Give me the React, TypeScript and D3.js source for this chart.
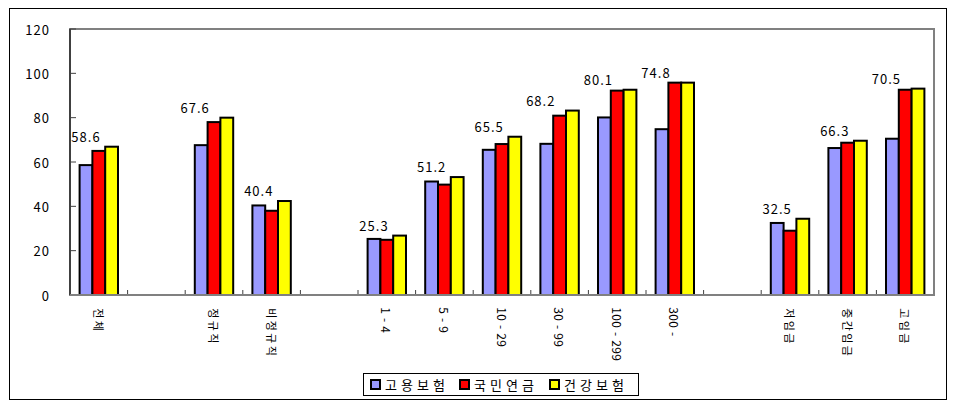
import React, { useEffect, useRef } from "react";
import * as d3 from "d3";

// categories in order, group index decides where the empty gap slots go
const categories = ["전체", "정규직", "비정규직", "1-4", "5-9", "10-29", "30-99", "100-299", "300-", "저임금", "중간임금", "고임금"];
const categoryGroup = [0, 1, 1, 2, 2, 2, 2, 2, 2, 3, 3, 3];

const seriesNames = ["고용보험", "국민연금", "건강보험"];
const employment = [58.6, 67.6, 40.4, 25.3, 51.2, 65.5, 68.2, 80.1, 74.8, 32.5, 66.3, 70.5];
const pension = [65.0, 78.0, 38.0, 24.9, 49.8, 68.1, 80.9, 92.2, 95.8, 29.0, 68.7, 92.6];
const health = [66.9, 80.0, 42.4, 26.8, 53.2, 71.4, 83.2, 92.6, 95.8, 34.4, 69.6, 93.1];
const seriesColors = ["#9999FF", "#FF0000", "#FFFF00"];
const yTicks = [0, 20, 40, 60, 80, 100, 120];

const W = 964;
const H = 415;
const FONT = "'Noto Sans CJK KR', 'DejaVu Sans', sans-serif";

const isHangul = (ch: string) => /[가-힣]/.test(ch);
// advance of one glyph in the vertical label, Gulim-like
const advance = (ch: string) => (isHangul(ch) ? 12.5 : ch === "-" ? 12 : 7);

const App = () => {
  const ref = useRef<SVGSVGElement | null>(null);

  useEffect(() => {
    const svg = d3.select(ref.current);
    svg.selectAll("*").remove();

    const plot = { left: 70, right: 934, top: 29, bottom: 295 };

    // slot keys: categories with a blank slot between groups
    const slots: string[] = [];
    categories.forEach((c, i) => {
      if (i > 0 && categoryGroup[i] !== categoryGroup[i - 1]) slots.push("gap" + i);
      slots.push(c);
    });

    const x = d3.scaleBand().domain(slots).range([plot.left, plot.right]).paddingInner(1 / 3).paddingOuter(1 / 6);
    const x1 = d3.scaleBand().domain(seriesNames).range([0, x.bandwidth()]);
    const y = d3.scaleLinear().domain([0, 120]).range([plot.bottom, plot.top]);
    const step = x.step();

    const allSeries = [employment, pension, health];

    // outer chart border
    svg.append("rect").attr("x", 9.5).attr("y", 8.5).attr("width", 937).attr("height", 391)
      .attr("fill", "white").attr("stroke", "black").attr("stroke-width", 1);

    // plot frame
    svg.append("rect").attr("x", plot.left).attr("y", plot.top)
      .attr("width", plot.right - plot.left).attr("height", plot.bottom - plot.top)
      .attr("fill", "white").attr("stroke", "#808080").attr("stroke-width", 2);
    svg.append("line").attr("x1", plot.left).attr("x2", plot.left).attr("y1", plot.top).attr("y2", plot.bottom)
      .attr("stroke", "#404040").attr("stroke-width", 2);

    // y ticks and labels
    const yg = svg.append("g");
    yTicks.forEach((t) => {
      yg.append("line").attr("x1", plot.left).attr("x2", plot.left + 6).attr("y1", y(t)).attr("y2", y(t))
        .attr("stroke", "#404040").attr("stroke-width", 1);
      yg.append("text").attr("x", 50).attr("y", y(t)).attr("text-anchor", "end")
        .attr("dominant-baseline", "central").attr("font-family", FONT).attr("font-size", 13)
        .attr("letter-spacing", 1).attr("fill", "black").text(t);
    });

    // x ticks between slots
    const xg = svg.append("g");
    for (let k = 1; k < slots.length; k++) {
      const tx = plot.left + k * step;
      xg.append("line").attr("x1", tx).attr("x2", tx).attr("y1", plot.bottom - 5).attr("y2", plot.bottom)
        .attr("stroke", "#404040").attr("stroke-width", 1);
    }

    // bars
    const bars = svg.append("g");
    categories.forEach((c, i) => {
      allSeries.forEach((s, j) => {
        const bx = (x(c) as number) + (x1(seriesNames[j]) as number);
        bars.append("rect").attr("x", bx).attr("y", y(s[i]))
          .attr("width", x1.bandwidth()).attr("height", plot.bottom - y(s[i]))
          .attr("fill", seriesColors[j]).attr("stroke", "black").attr("stroke-width", 2);
      });
    });

    // bottom axis line over bars
    svg.append("line").attr("x1", plot.left).attr("x2", plot.right).attr("y1", plot.bottom).attr("y2", plot.bottom)
      .attr("stroke", "#808080").attr("stroke-width", 2);

    // value labels for the first series, sitting just above the group's tallest bar
    const labels = svg.append("g");
    categories.forEach((c, i) => {
      const top = Math.max(employment[i], pension[i], health[i]);
      const bx = (x(c) as number) + (x1(seriesNames[0]) as number) + x1.bandwidth() / 2;
      const shift = pension[i] - employment[i] > 8 ? -6 : 0;
      labels.append("text").attr("x", bx + shift).attr("y", y(top) - 5).attr("text-anchor", "middle")
        .attr("font-family", FONT).attr("font-size", 13).attr("letter-spacing", 1)
        .attr("fill", "black").text(employment[i].toFixed(1));
    });

    // vertical category labels, glyph by glyph, each turned a quarter clockwise
    const cl = svg.append("g");
    categories.forEach((c) => {
      const cx = (x(c) as number) + x.bandwidth() / 2;
      const g = cl.append("g").attr("aria-label", c);
      let cy = 308;
      Array.from(c).forEach((ch) => {
        const a = advance(ch);
        g.append("text").attr("transform", `translate(${cx},${cy + a / 2 - 1}) rotate(90)`)
          .attr("text-anchor", "middle").attr("dominant-baseline", "central")
          .attr("font-family", FONT).attr("font-size", isHangul(ch) ? 11 : 12)
          .attr("fill", "black").text(ch);
        cy += a;
      });
    });

    // legend
    const lg = svg.append("g");
    lg.append("rect").attr("x", 363.5).attr("y", 373.5).attr("width", 275).attr("height", 22)
      .attr("fill", "white").attr("stroke", "black").attr("stroke-width", 1);
    const legendX = [370, 459, 549];
    seriesNames.forEach((n, j) => {
      lg.append("rect").attr("x", legendX[j] + 1).attr("y", 380).attr("width", 9).attr("height", 9)
        .attr("fill", seriesColors[j]).attr("stroke", "black").attr("stroke-width", 2);
      lg.append("text").attr("x", legendX[j] + 15).attr("y", 384.5).attr("dominant-baseline", "central")
        .attr("font-family", FONT).attr("font-size", 13).attr("letter-spacing", 4)
        .attr("fill", "black").text(n);
    });
  }, []);

  return (
    <svg ref={ref} width={W} height={H} style={{ position: "absolute", left: 0, top: 0, background: "white" }} />
  );
};

export default App;
